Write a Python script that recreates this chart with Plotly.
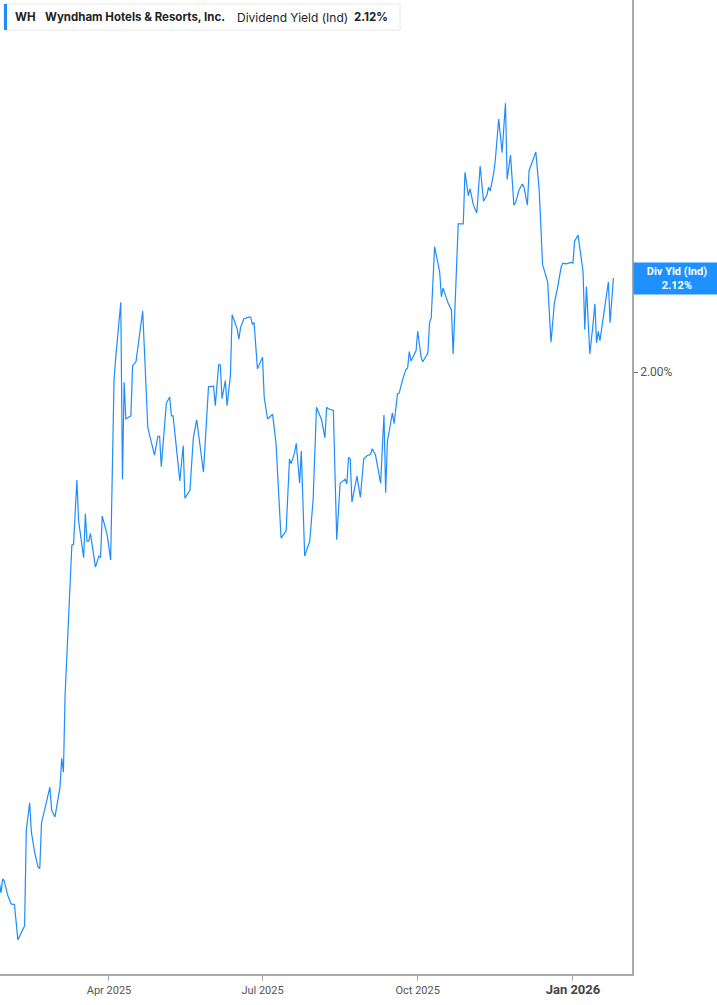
import plotly.graph_objects as go

dates = [
    "2025-01-26", "2025-01-27", "2025-01-28", "2025-01-29", "2025-01-31", "2025-02-02", "2025-02-04", "2025-02-06",
    "2025-02-10", "2025-02-11", "2025-02-13", "2025-02-14", "2025-02-16", "2025-02-18", "2025-02-19", "2025-02-20",
    "2025-02-25", "2025-02-26", "2025-02-28", "2025-03-03", "2025-03-04", "2025-03-05", "2025-03-06", "2025-03-10",
    "2025-03-11", "2025-03-13", "2025-03-14", "2025-03-17", "2025-03-18", "2025-03-19", "2025-03-20", "2025-03-21",
    "2025-03-24", "2025-03-26", "2025-03-27", "2025-03-28", "2025-03-30", "2025-03-31", "2025-04-02", "2025-04-04",
    "2025-04-05", "2025-04-08", "2025-04-09", "2025-04-10", "2025-04-11", "2025-04-14", "2025-04-15", "2025-04-17",
    "2025-04-21", "2025-04-24", "2025-04-25", "2025-04-28", "2025-04-30", "2025-05-01", "2025-05-02", "2025-05-05",
    "2025-05-07", "2025-05-08", "2025-05-09", "2025-05-13", "2025-05-15", "2025-05-16", "2025-05-19", "2025-05-21",
    "2025-05-23", "2025-05-27", "2025-05-30", "2025-06-02", "2025-06-03", "2025-06-05", "2025-06-06", "2025-06-07",
    "2025-06-09", "2025-06-10", "2025-06-12", "2025-06-13", "2025-06-16", "2025-06-17", "2025-06-18", "2025-06-20",
    "2025-06-23", "2025-06-24", "2025-06-25", "2025-06-26", "2025-06-28", "2025-07-01", "2025-07-02", "2025-07-04",
    "2025-07-07", "2025-07-09", "2025-07-12", "2025-07-15", "2025-07-17", "2025-07-18", "2025-07-20", "2025-07-21",
    "2025-07-23", "2025-07-24", "2025-07-26", "2025-07-29", "2025-07-31", "2025-08-02", "2025-08-05", "2025-08-07",
    "2025-08-08", "2025-08-09", "2025-08-12", "2025-08-14", "2025-08-16", "2025-08-17", "2025-08-19", "2025-08-20",
    "2025-08-21", "2025-08-22", "2025-08-23", "2025-08-26", "2025-08-28", "2025-08-30", "2025-09-01", "2025-09-03",
    "2025-09-04", "2025-09-06", "2025-09-09", "2025-09-11", "2025-09-12", "2025-09-13", "2025-09-16", "2025-09-17",
    "2025-09-19", "2025-09-20", "2025-09-22", "2025-09-24", "2025-09-25", "2025-09-26", "2025-09-27", "2025-09-30",
    "2025-10-01", "2025-10-03", "2025-10-04", "2025-10-07", "2025-10-08", "2025-10-09", "2025-10-11", "2025-10-14",
    "2025-10-15", "2025-10-16", "2025-10-19", "2025-10-21", "2025-10-22", "2025-10-25", "2025-10-28", "2025-10-29",
    "2025-10-31", "2025-11-01", "2025-11-03", "2025-11-05", "2025-11-06", "2025-11-07", "2025-11-09", "2025-11-11",
    "2025-11-12", "2025-11-13", "2025-11-15", "2025-11-16", "2025-11-18", "2025-11-20", "2025-11-22", "2025-11-23",
    "2025-11-25", "2025-11-27", "2025-11-28", "2025-11-30", "2025-12-02", "2025-12-03", "2025-12-05", "2025-12-06",
    "2025-12-10", "2025-12-12", "2025-12-14", "2025-12-17", "2025-12-19", "2025-12-21", "2025-12-23", "2025-12-25",
    "2025-12-26", "2025-12-28", "2025-12-31", "2026-01-01", "2026-01-02", "2026-01-04", "2026-01-07", "2026-01-08",
    "2026-01-09", "2026-01-11", "2026-01-13", "2026-01-14", "2026-01-15", "2026-01-16", "2026-01-17", "2026-01-19",
    "2026-01-22", "2026-01-23", "2026-01-25",
]

div_yield = [
    1.349, 1.335, 1.353, 1.350, 1.332, 1.321, 1.320, 1.275,
    1.293, 1.415, 1.450, 1.413, 1.386, 1.368, 1.366, 1.424,
    1.470, 1.441, 1.432, 1.470, 1.507, 1.489, 1.588, 1.779,
    1.780, 1.862, 1.810, 1.763, 1.819, 1.784, 1.784, 1.794,
    1.751, 1.765, 1.763, 1.816, 1.800, 1.791, 1.760, 1.990,
    2.018, 2.089, 1.863, 1.987, 1.940, 1.944, 2.008, 2.013,
    2.078, 1.930, 1.920, 1.894, 1.918, 1.918, 1.879, 1.960,
    1.968, 1.944, 1.944, 1.861, 1.906, 1.839, 1.849, 1.916,
    1.939, 1.872, 1.981, 1.982, 1.957, 2.009, 2.009, 1.966,
    1.989, 1.957, 1.996, 2.073, 2.055, 2.042, 2.057, 2.068,
    2.070, 2.070, 2.061, 2.063, 2.004, 2.019, 1.968, 1.940,
    1.946, 1.909, 1.788, 1.797, 1.889, 1.883, 1.897, 1.909,
    1.858, 1.899, 1.765, 1.784, 1.837, 1.955, 1.939, 1.916,
    1.955, 1.953, 1.951, 1.786, 1.858, 1.860, 1.863, 1.857,
    1.891, 1.889, 1.834, 1.867, 1.840, 1.889, 1.893, 1.895,
    1.902, 1.894, 1.858, 1.945, 1.846, 1.911, 1.948, 1.934,
    1.972, 1.973, 1.990, 2.003, 2.005, 2.026, 2.014, 2.027,
    2.052, 2.019, 2.013, 2.024, 2.063, 2.069, 2.160, 2.128,
    2.096, 2.107, 2.088, 2.079, 2.023, 2.189, 2.189, 2.255,
    2.225, 2.234, 2.213, 2.203, 2.232, 2.263, 2.218, 2.226,
    2.236, 2.231, 2.254, 2.271, 2.323, 2.280, 2.343, 2.246,
    2.277, 2.213, 2.216, 2.232, 2.240, 2.236, 2.213, 2.257,
    2.281, 2.232, 2.137, 2.115, 2.038, 2.088, 2.109, 2.134,
    2.139, 2.138, 2.140, 2.139, 2.167, 2.175, 2.128, 2.054,
    2.109, 2.023, 2.063, 2.087, 2.037, 2.052, 2.040, 2.070,
    2.115, 2.063, 2.120,
]

tick_dates = ["2025-04-01", "2025-07-01", "2025-10-01", "2026-01-01"]
tick_labels = ["Apr 2025", "Jul 2025", "Oct 2025",
               "<span style='font-size:13px;color:#444'><b>Jan 2026</b></span>"]
y_ticks = [2.0]
y_tick_labels = ["2.00%"]

ticker = "WH"
company = "Wyndham Hotels & Resorts, Inc."
metric = "Dividend Yield (Ind)"
last_value = "2.12%"

LINE = "#1e8cff"
W, H = 717, 1005
L, R, T, B = 0, 85, 0, 31
PW, PH = W - L - R, H - T - B


def px(xp):
    return (xp - L) / PW


def py(yp):
    return 1 - (yp - T) / PH


fig = go.Figure()
fig.add_trace(go.Scatter(
    x=dates, y=div_yield, mode="lines",
    line=dict(color=LINE, width=1.2),
    hoverinfo="skip", showlegend=False,
))

fig.update_layout(
    width=W, height=H,
    margin=dict(l=L, r=R, t=T, b=B),
    paper_bgcolor="white", plot_bgcolor="white",
    font=dict(family="Roboto, sans-serif", color="#555"),
    xaxis=dict(
        range=["2025-01-26 10:00", "2026-02-05"],
        tickmode="array", tickvals=tick_dates, ticktext=tick_labels,
        ticks="outside", ticklen=5, tickcolor="#aaa", tickwidth=1,
        showline=True, linecolor="#aaa", linewidth=1.5,
        showgrid=False, zeroline=False,
        tickfont=dict(size=11, color="#555"),
    ),
    yaxis=dict(
        side="right", range=[1.2315, 2.4749],
        tickmode="array", tickvals=y_ticks, ticktext=y_tick_labels,
        ticks="outside", ticklen=4, tickcolor="#666", tickwidth=1,
        showline=True, linecolor="#aaa", linewidth=1.5,
        showgrid=False, zeroline=False,
        tickfont=dict(size=12, color="#555"),
    ),
)

# Header legend box
fig.add_shape(type="rect", xref="paper", yref="paper",
              x0=px(4), x1=px(400), y0=py(30), y1=py(4),
              line=dict(color="#e6e6e6", width=1), fillcolor="white", layer="above")
fig.add_shape(type="rect", xref="paper", yref="paper",
              x0=px(4), x1=px(7), y0=py(30), y1=py(4),
              line=dict(width=0), fillcolor=LINE, layer="above")

for xp, txt, sz in [(13, f"<b>{ticker}</b>", 11.5), (43, f"<b>{company}</b>", 11.5),
                    (235, metric, 12), (352, f"<b>{last_value}</b>", 11.5)]:
    fig.add_annotation(xref="paper", yref="paper", x=px(xp), y=py(17),
                       xanchor="left", yanchor="middle", text=txt, showarrow=False,
                       font=dict(family="Inter, Roboto, sans-serif", size=sz, color="#222"))

# Last value label on the right axis
fig.add_annotation(
    xref="paper", yref="y", x=1, y=div_yield[-1], xanchor="left", yanchor="middle",
    xshift=1, text=f"<b>Div Yld (Ind)</b><br><b>{last_value}</b>",
    showarrow=False, bgcolor="#1e90ff", font=dict(size=11, color="white"),
    width=82, height=27, borderpad=2, align="center",
)

fig.write_html("out.html", config={"displayModeBar": False},
               post_script="document.body.style.margin='0';")
